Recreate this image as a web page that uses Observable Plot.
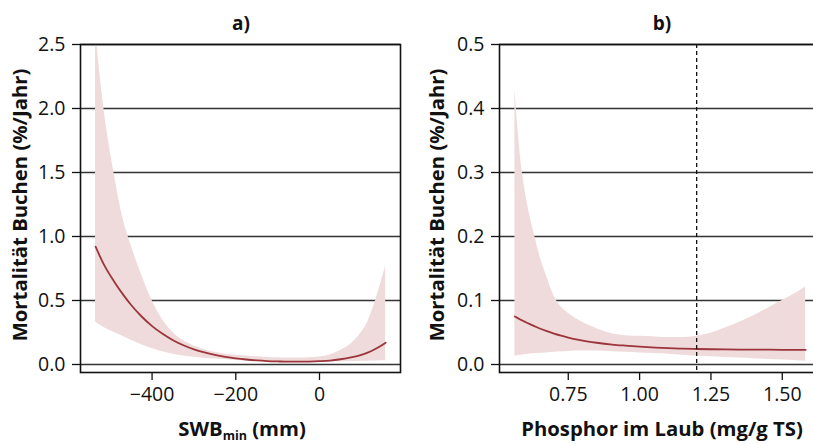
<!DOCTYPE html>
<html><head><meta charset="utf-8">
<script src="https://cdn.jsdelivr.net/npm/d3@7"></script>
<script src="https://cdn.jsdelivr.net/npm/@observablehq/plot@0.6"></script>
<style>
body{margin:0;background:#fff;}
#wrap{position:relative;width:813px;height:444px;overflow:hidden;font-family:"Open Sans",sans-serif;}
#wrap svg{position:absolute;top:0;}
</style></head><body><div id="wrap"></div>
<script>
// Panel a: SWB_min (mm)
const swb = [-535, -515, -490, -470, -450, -425, -400, -375, -350, -325, -300, -275, -250, -225, -200, -175, -150, -125, -100, -75, -50, -25, 0, 25, 50, 75, 100, 115, 130, 145, 158];
const fitA = [0.92, 0.78, 0.645, 0.55, 0.465, 0.375, 0.30, 0.24, 0.19, 0.15, 0.118, 0.094, 0.075, 0.060, 0.048, 0.039, 0.032, 0.027, 0.024, 0.022, 0.022, 0.023, 0.026, 0.031, 0.041, 0.055, 0.075, 0.093, 0.115, 0.142, 0.17];
const hiA = [2.6, 2.0, 1.48, 1.15, 0.93, 0.70, 0.50, 0.35, 0.25, 0.185, 0.145, 0.115, 0.095, 0.08, 0.072, 0.066, 0.06, 0.055, 0.052, 0.05, 0.05, 0.052, 0.058, 0.075, 0.11, 0.16, 0.25, 0.33, 0.46, 0.62, 0.77];
const loA = [0.33, 0.29, 0.25, 0.22, 0.19, 0.155, 0.125, 0.10, 0.08, 0.066, 0.056, 0.048, 0.042, 0.037, 0.032, 0.028, 0.025, 0.022, 0.02, 0.019, 0.019, 0.019, 0.019, 0.02, 0.021, 0.023, 0.025, 0.026, 0.027, 0.029, 0.03];
const ticksXA = [-400, -200, 0];
const ticksYA = [0, 0.5, 1.0, 1.5, 2.0, 2.5];

// Panel b: Phosphor im Laub (mg/g TS)
const phos = [0.563, 0.568, 0.575, 0.589, 0.6, 0.612, 0.633, 0.65, 0.675, 0.7, 0.725, 0.75, 0.787, 0.85, 0.904, 0.95, 1.0, 1.056, 1.1, 1.15, 1.2, 1.25, 1.3, 1.35, 1.4, 1.45, 1.5, 1.55, 1.582];
const fitB = [0.075, 0.0738, 0.072, 0.0688, 0.0664, 0.0638, 0.0596, 0.0563, 0.052, 0.0482, 0.045, 0.0421, 0.0385, 0.034, 0.0312, 0.0295, 0.0279, 0.0265, 0.0256, 0.0248, 0.0242, 0.0238, 0.0235, 0.0233, 0.0232, 0.0231, 0.023, 0.023, 0.023];
const hiB = [0.431, 0.40, 0.36, 0.30, 0.268, 0.24, 0.20, 0.17, 0.137, 0.107, 0.09, 0.08, 0.069, 0.056, 0.048, 0.045, 0.044, 0.043, 0.042, 0.042, 0.044, 0.049, 0.057, 0.066, 0.076, 0.088, 0.10, 0.112, 0.121];
const loB = [0.013, 0.0135, 0.014, 0.015, 0.0155, 0.016, 0.017, 0.0175, 0.018, 0.019, 0.02, 0.0205, 0.021, 0.021, 0.02, 0.019, 0.018, 0.017, 0.016, 0.0145, 0.013, 0.012, 0.011, 0.010, 0.009, 0.008, 0.007, 0.006, 0.005];
const ticksXB = [0.75, 1.00, 1.25, 1.50];
const ticksYB = [0, 0.1, 0.2, 0.3, 0.4, 0.5];
const thresholdP = [1.2];

const yLabel = "Mortalität Buchen (%/Jahr)";
const FILL = "#efdbdb", LINE = "#9c343b";
const TICK_FS = 19.5, LAB_FS = 20.3;

function panel({xs, fit, hi, lo, xDomain, yDomain, xTicks, xFmt, yTicks, width, marginLeft, marginRight, extra}) {
  const rows = xs.map((x, i) => ({x, fit: fit[i], hi: hi[i], lo: lo[i]}));
  return Plot.plot({
    width, height: 444, marginLeft, marginRight, marginTop: 44, marginBottom: 72,
    x: {domain: xDomain}, y: {domain: yDomain},
    style: {fontFamily: "'Open Sans', sans-serif", fontSize: TICK_FS + "px", color: "#111", background: "transparent", overflow: "visible"},
    marks: [
      Plot.gridY(yTicks, {stroke: "#333", strokeOpacity: 1, strokeWidth: 1.3}),
      Plot.areaY(rows, {x: "x", y1: "lo", y2: "hi", fill: FILL, curve: "monotone-x", clip: true}),
      Plot.lineY(rows, {x: "x", y: "fit", stroke: LINE, strokeWidth: 1.8, curve: "monotone-x", clip: true}),
      ...(extra || []),
      Plot.frame({stroke: "#111", strokeWidth: 1.6}),
      Plot.axisY(yTicks, {tickSize: 8, tickPadding: 7, tickFormat: d3.format(".1f"), label: null, fontSize: TICK_FS, strokeWidth: 1.3}),
      Plot.axisX(xTicks, {tickSize: 8, tickPadding: 7, tickFormat: xFmt, label: null, fontSize: TICK_FS, strokeWidth: 1.3})
    ]
  });
}

const wrap = document.getElementById("wrap");

const a = panel({xs: swb, fit: fitA, hi: hiA, lo: loA, xDomain: [-571, 193.5], yDomain: [-0.0625, 2.5],
  xTicks: ticksXA, xFmt: d3.format("d"), yTicks: ticksYA, width: 406, marginLeft: 80, marginRight: 6});
a.style.left = "0px";
wrap.appendChild(a);

const b = panel({xs: phos, fit: fitB, hi: hiB, lo: loB, xDomain: [0.509, 1.655], yDomain: [-0.0125, 0.5],
  xTicks: ticksXB, xFmt: d3.format(".2f"), yTicks: ticksYB, width: 420, marginLeft: 93, marginRight: 0,
  extra: [Plot.ruleX(thresholdP, {stroke: "#111", strokeWidth: 1.3, strokeDasharray: "4,3"})]});
b.style.left = "406px";
wrap.appendChild(b);

function decorate(svg, {title, titleX, ylabX, xlab, xlabX, sub}) {
  const s = d3.select(svg);
  const bold = {"font-family": "'Open Sans', sans-serif", "font-weight": "bold", "fill": "#111"};
  const t = s.append("text").attr("x", titleX).attr("y", 30).attr("text-anchor", "middle").attr("font-size", 19).text(title);
  Object.entries(bold).forEach(([k, v]) => t.attr(k, v));
  const yl = s.append("text").attr("transform", `translate(${ylabX},205) rotate(-90)`).attr("text-anchor", "middle")
    .attr("dominant-baseline", "central").attr("font-size", LAB_FS).text(yLabel);
  Object.entries(bold).forEach(([k, v]) => yl.attr(k, v));
  const xl = s.append("text").attr("x", xlabX).attr("y", 436).attr("text-anchor", "middle").attr("font-size", LAB_FS);
  Object.entries(bold).forEach(([k, v]) => xl.attr(k, v));
  if (sub) {
    xl.append("tspan").text(xlab[0]);
    xl.append("tspan").attr("font-size", 12.5).attr("dy", 4).text(sub);
    xl.append("tspan").attr("dy", -4).text(xlab[1]);
  } else {
    xl.text(xlab);
  }
}
decorate(a, {title: "a)", titleX: 241, ylabX: 19, xlab: ["SWB", " (mm)"], sub: "min", xlabX: 242});
decorate(b, {title: "b)", titleX: 256, ylabX: 30, xlab: "Phosphor im Laub (mg/g TS)", xlabX: 256});
</script>
</body></html>
